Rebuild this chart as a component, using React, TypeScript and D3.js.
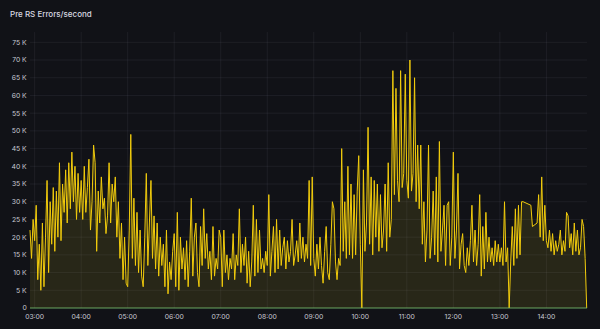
import React, { useEffect } from "react";
import * as d3 from "d3";

const W = 600;
const H = 329;

const chartTitle = "Pre RS Errors/second";
const seriesStartMinute = 174; // 02:54
const stepMinutes = 2;

// values in thousands (K), 2-minute steps; null = no sample
const v0254 = [22, 14, 25];
const v03 = [19, 29, 8, 18, 5, 24, 6, 20, 36, 10, 30, 18, 34, 16, 33, 20, 41, 19, 35, 27, 39, 24, 41, 28, 44, 30, 40, 25, 38, 27];
const v04 = [36, 25, 40, 27, 34, 42, 22, 30, 46, 41, 16, 33, 24, 37, 28, 31, 21, 26, 41, 24, 35, 30, 37, 20, 30, 14, 24, 8, 20, 7];
const v05 = [6, 22, 49, 14, 31, 12, 27, 10, 22, 9, 6, 20, 38, 12, 24, 36, 14, 26, 11, 24, 9, 20, 12, 18, 6, 22, 4, 13, 8, 16];
const v06 = [21, 6, 27, 5, 20, 11, 17, 8, 19, 6, 16, 31, 9, 20, 24, 10, 6, 23, 12, 28, 14, 21, 11, 16, 8, 23, 9, 14, 11, 22];
const v07 = [20, 6, 22, 10, 15, 8, 14, 11, 21, 8, 15, 12, 28, 10, 18, 12, 20, 7, 16, 6, 13, 29, 9, 25, 10, 22, 11, 14, 10, 16];
const v08 = [12, 32, 9, 16, 23, 10, 25, 11, 22, 12, 17, 20, 11, 19, 13, 16, 25, 12, 15, 19, 13, 24, 14, 20, 13, 18, 14, 36, 12, 37];
const v09 = [14, 9, 18, 11, 20, 12, 7, 16, 23, 10, 8, 18, 30, 28, 13, 8, 14, 12, 45, 16, 30, 14, 40, 15, 35, 14, 32, 15, 33, 43];
const v10 = [18, 0, 39, 16, 24, 51, 18, 37, 15, 36, 20, 35, 16, 32, 17, 22, 35, 16, 41, 20, 25, 67, 32, 62, 36, 30, 67, 34, 38, 66];
const v11 = [36, 31, 70, 33, 38, 65, 30, 46, 28, 46, 18, 30, 13, 22, 46, 14, 20, 33, 15, 37, 13, 47, 16, 22, 29, 12, 29, 30, 12, 20];
const v12 = [44, 14, 22, 38, 11, 18, 21, 12, 10, 17, 12, 19, 29, 13, 22, 12, 18, 32, 9, 23, 11, 27, 13, 20, 13, 17, 12, 19, 13, 18];
const v13 = [13, 17, 12, 30, 13, 17, 0, 13, 23, 12, 28, 14, 29, 15, 30, 30, null, null, null, null, 29, 23, null, null, 24, 32, 20, 37, 19, 29];
const v14 = [19, 17, 22, 16, 21, 15, 19, 16, 18, 22, 15, 19, 16, 27, 26, 17, 21, 15, 24, 16, 22, 15, 17, 25, 23, 14, 0];

const yTicks = [0, 5000, 10000, 15000, 20000, 25000, 30000, 35000, 40000, 45000, 50000, 55000, 60000, 65000, 70000, 75000];
const xTickLabels = ["03:00", "04:00", "05:00", "06:00", "07:00", "08:00", "09:00", "10:00", "11:00", "12:00", "13:00", "14:00"];

const allValues: (number | null)[] = [
  ...v0254, ...v03, ...v04, ...v05, ...v06, ...v07, ...v08, ...v09, ...v10, ...v11, ...v12, ...v13, ...v14,
];

type Pt = { m: number; v: number };

export default function App() {
  useEffect(() => {
    document.body.style.margin = "0";
    document.body.style.background = "#111217";
  }, []);

  const points: Pt[] = allValues
    .map((v, i) => ({ m: seriesStartMinute + i * stepMinutes, v: v === null ? NaN : v * 1000 }))
    .filter((p) => !isNaN(p.v));

  const endMinute = seriesStartMinute + (allValues.length - 1) * stepMinutes;
  const x = d3.scaleLinear().domain([seriesStartMinute, endMinute]).range([30, 586.7]);
  const y = d3.scaleLinear().domain([0, 75000]).range([308, 42.3]);
  const plotTop = y(77900);

  const line = d3
    .line<Pt>()
    .x((d) => x(d.m))
    .y((d) => y(d.v));
  const area = d3
    .area<Pt>()
    .x((d) => x(d.m))
    .y0(y(0))
    .y1((d) => y(d.v));

  const hourMinutes = xTickLabels.map((l) => {
    const [hh, mm] = l.split(":").map(Number);
    return hh * 60 + mm;
  });

  const fmtY = (v: number) => (v === 0 ? "0" : `${v / 1000} K`);
  const gridColor = "rgba(204,204,220,0.07)";
  const textColor = "#c7c8d2";

  return (
    <svg
      width={W}
      height={H}
      viewBox={`0 0 ${W} ${H}`}
      style={{ display: "block", background: "#111217", fontFamily: "Inter, 'Noto Sans', sans-serif" }}
    >
      <rect x={0} y={0} width={W} height={H} fill="#111217" />
      <text x={10} y={17} fill="#d8d9e0" fontSize={8} fontWeight={500}>
        {chartTitle}
      </text>

      {/* grid */}
      {yTicks.map((t) => (
        <line key={`gy${t}`} x1={30} x2={587} y1={y(t)} y2={y(t)} stroke={gridColor} strokeWidth={1} />
      ))}
      {hourMinutes.map((m) => (
        <line key={`gx${m}`} x1={x(m)} x2={x(m)} y1={plotTop} y2={y(0)} stroke={gridColor} strokeWidth={1} />
      ))}

      {/* y tick labels */}
      {yTicks.map((t) => (
        <text key={`ty${t}`} x={26.7} y={y(t)} dy="0.35em" textAnchor="end" fill={textColor} fontSize={6.8}>
          {fmtY(t)}
        </text>
      ))}
      {/* x tick labels */}
      {hourMinutes.map((m, i) => (
        <text key={`tx${m}`} x={x(m)} y={319.2} textAnchor="middle" fill={textColor} fontSize={6.8}>
          {xTickLabels[i]}
        </text>
      ))}

      {/* series */}
      <path d={area(points) || ""} fill="#FADE2A" fillOpacity={0.1} />
      <path d={line(points) || ""} fill="none" stroke="#F2CC0C" strokeWidth={1} strokeLinejoin="round" />

      {/* zero series */}
      <line x1={30} x2={587} y1={y(0)} y2={y(0)} stroke="#73BF69" strokeOpacity={0.55} strokeWidth={1.5} />
    </svg>
  );
}
